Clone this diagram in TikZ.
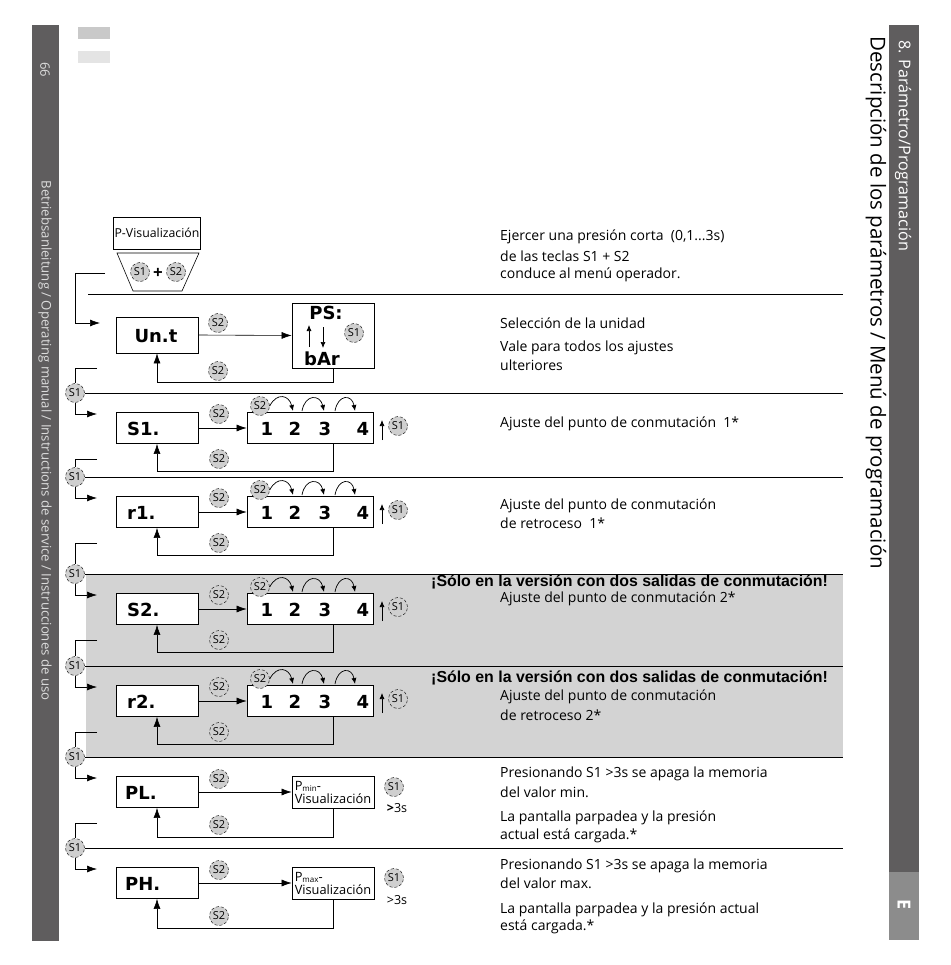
\documentclass[tikz,border=0pt]{standalone}
\usepackage{fontspec}
\setmainfont{Open Sans}
\newfontfamily\headfont{Liberation Sans}
\newfontfamily\segfont{DejaVu Sans}
\usetikzlibrary{arrows.meta}
\definecolor{barcol}{HTML}{5F5D5E}
\definecolor{barlight}{HTML}{8C8C8C}
\definecolor{bandcol}{HTML}{D3D3D3}
\definecolor{keycol}{HTML}{CFCFCF}
\definecolor{hdrA}{HTML}{C9C9C9}
\definecolor{hdrB}{HTML}{E4E4E4}
\definecolor{bartext}{HTML}{DCDCDC}
\begin{document}
\begin{tikzpicture}[x=1pt,y=-1pt,
 key/.style={circle,draw,densely dashed,line width=0.4pt,fill=keycol,minimum size=19pt,inner sep=0pt,font=\fontsize{11}{11}\selectfont},
 disp/.style={draw,fill=white,line width=0.7pt,minimum width=82pt,minimum height=31pt,inner sep=0pt},
 seg/.style={font=\segfont\bfseries\fontsize{18}{18}\selectfont,inner sep=0pt},
 link/.style={line width=0.6pt},
 arr/.style={link,-{Latex[length=10pt,width=7pt]}},
 sarr/.style={line width=0.7pt,-{Latex[length=6pt,width=5pt]}},
 txt/.style={anchor=west,inner sep=0pt,font=\fontsize{14}{16}\selectfont},
 head/.style={anchor=west,inner sep=0pt,font=\headfont\bfseries\fontsize{15.9}{16}\selectfont},
 pbox/.style={draw,fill=white,line width=0.7pt,minimum width=82pt,minimum height=32pt,inner sep=1.5pt,align=left,font=\fontsize{12.8}{13}\selectfont},
]
\useasboundingbox (0,0) rectangle (950,965);
\fill[white] (0,0) rectangle (950,965);
% grey band
\fill[bandcol] (86,574) rectangle (843,757);
% side bars
\fill[barcol] (32,25) rectangle (59,941);
\node[rotate=-90,text=bartext,font=\fontsize{13}{14}\selectfont] (pagenum) at (45,70) {66};
\node[rotate=-90,anchor=west,text=bartext,font=\fontsize{13.2}{14}\selectfont] (manual) at (45,177) {Betriebsanleitung / Operating manual / Instructions de service / Instrucciones de uso};
\fill[barcol] (889,25) rectangle (919,872);
\fill[barlight] (889,872) rectangle (919,940);
\node[rotate=-90,anchor=west,text=white,font=\fontsize{16.2}{18}\selectfont] (chap) at (903,37) {8. Parámetro/Programación};
\node[rotate=-90,text=white,font=\bfseries\fontsize{18}{18}\selectfont] (letterE) at (904,905) {E};
\node[rotate=-90,anchor=west,font=\fontsize{20.5}{22}\selectfont] (title) at (876,33) {Descripción de los parámetros / Menú de programación};
% header marks
\fill[hdrA] (78,27) rectangle (110,39);
\fill[hdrB] (78,51) rectangle (110,63);

% ---- P-Visualizacion
\node[draw,line width=0.6pt,minimum width=82pt,minimum height=32pt,inner sep=1pt,font=\fontsize{12.3}{13}\selectfont] (pvis) at (157,233) {P-Visualización};
\draw[link] (117,253) -- (199,253) -- (182,291) -- (133,291) -- cycle;
\node[key] (k0a) at (140,272) {S1};
\node[font=\bfseries\fontsize{17}{17}\selectfont,inner sep=0pt] (plus) at (158,273) {+};
\node[key] (k0b) at (176,272) {S2};
\coordinate (c0a) at (105,273);
\coordinate (c0b) at (75,273);
\coordinate (c0c) at (100,323);
\draw[link] (c0a) -- (c0b);
\draw[arr] (c0b) |- (c0c);
\draw[link] (88,294) -- (843,294);
\node[txt] (t0a) at (500,237) {Ejercer una presión corta \ (0,1...3s)};
\node[txt] (t0b) at (500,256) {de las teclas S1 + S2};
\node[txt] (t0c) at (500,275) {conduce al menú operador.};

% ---- Unit row
\node[disp,minimum height=36pt] (unit) at (157,335) {};
\node[seg] (unitlab) at (156,336) {Un.t};
\node[draw,fill=white,line width=0.7pt,minimum width=82pt,minimum height=65pt] (ps) at (333,335.5) {};
\node[seg] (pslab) at (326,313) {PS:};
\node[seg] (barlab) at (322,359) {bAr};
\coordinate (psu1) at (309,347);
\coordinate (psu2) at (309,325);
\coordinate (psd1) at (323,327);
\coordinate (psd2) at (323,348);
\draw[sarr] (psu1) -- (psu2);
\draw[sarr] (psd1) -- (psd2);
\node[key] (kU1) at (354,333) {S1};
\draw[arr] (unit.east) -- (ps.west);
\node[key] (kU2) at (218,323) {S2};
\coordinate (yU) at (0,382);
\draw[arr] (ps.south) -- (ps.south |- yU) -- (unit.south |- yU) -- (unit.south);
\node[key] (kU3) at (218,371) {S2};
\node[txt] (t1a) at (500,323) {Selección de la unidad};
\node[txt] (t1b) at (500,348) {Vale para todos los ajustes};
\node[txt] (t1c) at (500,365) {ulteriores};

% ---- setpoint rows
\foreach \i/\d/\p/\lab in {2/393/303/S1.,3/477/393/r1.,4/574/477/S2.,5/666/574/r2.}{
  \node[key] (k\i) at (75,\d) {S1};
  \draw[link] (k\i.east) -- (843,\d);
  \ifnum\i=2
    \draw[link] (97,368) -- (75,368) -- (k\i.north);
  \else
    \draw[link] (97,\p+66) -- (75,\p+66) -- (k\i.north);
  \fi
  \draw[arr] (k\i.south) |- (97,\d+21);
  \node[disp] (box\i) at (157,\d+35) {};
  \node[seg,anchor=west] (lab\i) at (127,\d+36) {\lab};
  \node[draw,fill=white,line width=0.7pt,minimum width=126pt,minimum height=31pt] (dig\i) at (310,\d+35) {};
  \node[seg] (da\i) at (267,\d+36) {1};
  \node[seg] (db\i) at (295,\d+36) {2};
  \node[seg] (dc\i) at (325,\d+36) {3};
  \node[seg] (dd\i) at (363,\d+36) {4};
  \draw[arr] (box\i.east) -- (dig\i.west);
  \node[key] (ku\i) at (219,\d+21) {S2};
  \node[key] (kc\i) at (260,\d+13) {S2};
  \draw[sarr] (kc\i.east) .. controls (277,\d-1) and (289,\d+2) .. (293,\d+18);
  \draw[sarr] (302,\d+18) .. controls (305,\d+1) and (320,\d+1) .. (324,\d+18);
  \draw[sarr] (335,\d+18) .. controls (338,\d+1) and (352,\d+1) .. (355,\d+18);
  \draw[sarr] (382,\d+47) -- (382,\d+27);
  \node[key] (ks\i) at (398,\d+33) {S1};
  \draw[arr] (333,\d+50.5) -- (333,\d+78) -| (box\i.south);
  \node[key] (kl\i) at (219,\d+66) {S2};
}
\node[txt] (t2a) at (500,424) {Ajuste del punto de conmutación \ 1*};
\node[txt] (t3a) at (500,506) {Ajuste del punto de conmutación};
\node[txt] (t3b) at (500,523) {de retroceso \ 1*};
\node[head] (h4) at (431,582) {¡Sólo en la versión con dos salidas de conmutación!};
\node[txt] (t4a) at (500,599) {Ajuste del punto de conmutación 2*};
\node[head] (h5) at (431,678) {¡Sólo en la versión con dos salidas de conmutación!};
\node[txt] (t5a) at (500,697) {Ajuste del punto de conmutación};
\node[txt] (t5b) at (500,715) {de retroceso 2*};

% ---- peak rows
\foreach \i/\d/\p/\lab/\sub in {6/757/666/PL./min,7/848/757/PH./max}{
  \node[key] (k\i) at (75,\d) {S1};
  \draw[link] (k\i.east) -- (843,\d);
  \draw[link] (97,\p+66) -- (75,\p+66) -- (k\i.north);
  \draw[arr] (k\i.south) |- (97,\d+21);
  \node[disp] (box\i) at (157,\d+35) {};
  \node[seg,anchor=west] (lab\i) at (125,\d+36) {\lab};
  \node[pbox] (pm\i) at (333,\d+35) {P{\fontsize{8}{8}\selectfont\raisebox{-1pt}{\sub}}-\\Visualización};
  \draw[arr] (box\i.east) -- (pm\i.west);
  \node[key] (ku\i) at (219,\d+22) {S2};
  \node[key] (ks\i) at (394,\d+30) {S1};
  \draw[arr] (333,\d+51) -- (333,\d+80) -| (box\i.south);
  \node[key] (kl\i) at (219,\d+68) {S2};
}
\node[font=\fontsize{12.5}{12.5}\selectfont,inner sep=0pt] (gt6) at (397,808) {\textbf{>}3s};
\node[font=\fontsize{12.5}{12.5}\selectfont,inner sep=0pt] (gt7) at (397,900) {>3s};
\node[txt] (t6a) at (500,774) {Presionando S1 >3s se apaga la memoria};
\node[txt] (t6b) at (500,792) {del valor min.};
\node[txt] (t6c) at (500,818) {La pantalla parpadea y la presión};
\node[txt] (t6d) at (500,836) {actual está cargada.*};
\node[txt] (t7a) at (500,866) {Presionando S1 >3s se apaga la memoria};
\node[txt] (t7b) at (500,883) {del valor max.};
\node[txt] (t7c) at (500,910) {La pantalla parpadea y la presión actual};
\node[txt] (t7d) at (500,927) {está cargada.*};
\end{tikzpicture}
\end{document}
